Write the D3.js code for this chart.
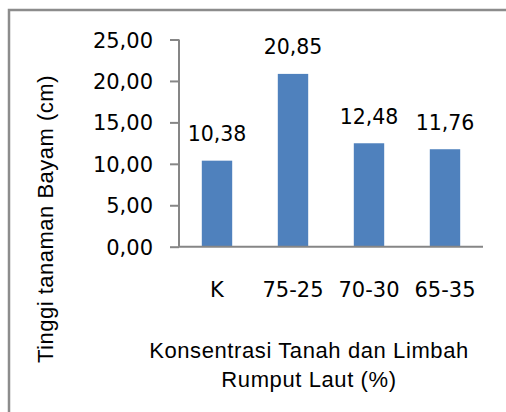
<!DOCTYPE html>
<html>
<head>
<meta charset="utf-8">
<script src="https://cdn.jsdelivr.net/npm/d3@7"></script>
<style>
  html, body { margin: 0; padding: 0; background: #fff; }
  svg { display: block; }
</style>
</head>
<body>
<svg id="chart" width="506" height="412"></svg>
<script>
const categories = ["K", "75-25", "70-30", "65-35"];
const values = [10.38, 20.85, 12.48, 11.76];
const yTicks = [0, 5, 10, 15, 20, 25];
const yTitle = "Tinggi tanaman Bayam (cm)";
const xTitleLines = ["Konsentrasi Tanah dan Limbah", "Rumput Laut (%)"];

const svg = d3.select("#chart");
const W = 506, H = 412;
const plot = { left: 179, right: 483, top: 39.5, bottom: 246.7 };
const tickFont = "'DejaVu Sans', sans-serif";
const titleFont = "'Liberation Sans', Arial, sans-serif";
const fmt = v => d3.format(".2f")(v).replace(".", ",");

// outer frame (only top and left visible)
svg.append("path")
  .attr("d", `M9,${H} L9,10 L${W},10`)
  .attr("fill", "none")
  .attr("stroke", "#8c8c8c")
  .attr("stroke-width", 2.5);

const x = d3.scaleBand().domain(categories)
  .range([plot.left, plot.right])
  .paddingInner(0.6).paddingOuter(0.3);
const y = d3.scaleLinear().domain([0, 25]).range([plot.bottom, plot.top]);

// bars
svg.append("g").selectAll("rect")
  .data(values)
  .join("rect")
  .attr("x", (d, i) => x(categories[i]))
  .attr("width", x.bandwidth())
  .attr("y", d => y(d))
  .attr("height", d => y(0) - y(d))
  .attr("fill", "#4f81bd");

// y axis
const yAxis = svg.append("g")
  .attr("transform", `translate(${plot.left},0)`)
  .call(d3.axisLeft(y).tickValues(yTicks).tickFormat(fmt).tickSize(9).tickPadding(17));
yAxis.select(".domain").attr("stroke", "#868686").attr("stroke-width", 2)
  .attr("d", `M0,${y(25)}H0V${y(0)}`);
yAxis.selectAll(".tick line").attr("stroke", "#868686").attr("stroke-width", 2);
yAxis.selectAll(".tick text")
  .attr("font-family", tickFont).attr("font-size", 21).attr("fill", "#000")
  .attr("dy", "0.36em");

// x axis
const xAxis = svg.append("g")
  .attr("transform", `translate(0,${plot.bottom})`)
  .call(d3.axisBottom(x).tickSize(0).tickPadding(35));
xAxis.select(".domain").attr("stroke", "#868686").attr("stroke-width", 2)
  .attr("d", `M${plot.left},0H${plot.right}`);
xAxis.selectAll(".tick text")
  .attr("font-family", tickFont).attr("font-size", 21).attr("fill", "#000")
  .attr("dy", "0");
xAxis.selectAll(".tick text").attr("y", 297 - plot.bottom);

// data labels
svg.append("g").selectAll("text")
  .data(values)
  .join("text")
  .attr("x", (d, i) => x(categories[i]) + x.bandwidth() / 2)
  .attr("y", d => y(d) - 19.5)
  .attr("text-anchor", "middle")
  .attr("font-family", tickFont).attr("font-size", 20.5).attr("fill", "#000")
  .text(d => fmt(d));

// y title
svg.append("text")
  .attr("transform", `translate(53,219) rotate(-90)`)
  .attr("text-anchor", "middle")
  .attr("font-family", titleFont).attr("font-size", 22).attr("letter-spacing", 0.5)
  .attr("fill", "#000")
  .text(yTitle);

// x title
svg.append("g").selectAll("text")
  .data(xTitleLines)
  .join("text")
  .attr("x", 309)
  .attr("y", (d, i) => 358 + i * 28.5)
  .attr("text-anchor", "middle")
  .attr("font-family", titleFont).attr("font-size", 22).attr("letter-spacing", 0.6)
  .attr("fill", "#000")
  .text(d => d);
</script>
</body>
</html>
